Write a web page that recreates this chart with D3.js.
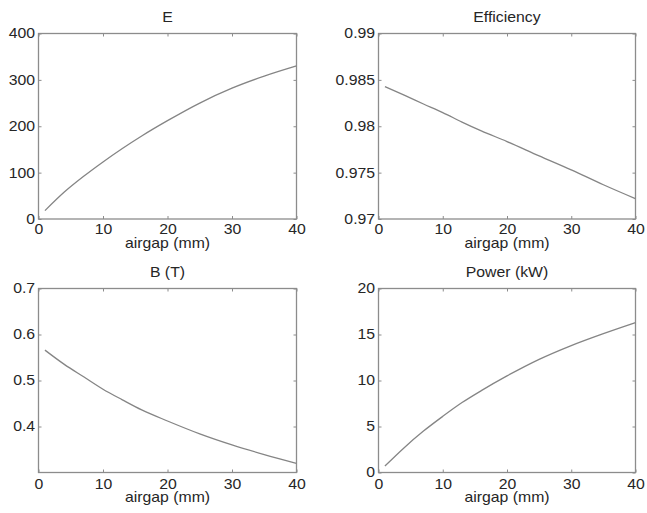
<!DOCTYPE html>
<html>
<head>
<meta charset="utf-8">
<script src="https://cdn.jsdelivr.net/npm/d3@7/dist/d3.min.js"></script>
<style>
  html, body { margin: 0; padding: 0; background: #fff; }
  svg { display: block; }
  text { font-family: "Liberation Sans", Arial, Helvetica, sans-serif; fill: #262626; }
</style>
</head>
<body>
<svg id="chart" width="647" height="513"></svg>
<script>
// Air gap length (mm) at which each quantity was evaluated
const airgap = [1, 4, 7, 10, 13, 16, 20, 25, 30, 35, 40];

// Back-EMF E
const emf = [18, 58, 92, 123, 152, 179, 212, 250, 282, 308, 330];
// Efficiency
const efficiency = [0.98427, 0.98335, 0.98240, 0.98147, 0.98045, 0.97950, 0.97835, 0.97681, 0.97530, 0.97369, 0.97219];
// Air-gap flux density B (T)
const fluxDensity = [0.566, 0.535, 0.508, 0.481, 0.458, 0.436, 0.412, 0.384, 0.360, 0.339, 0.320];
// Output power (kW)
const power = [0.7, 2.7, 4.5, 6.1, 7.6, 8.9, 10.5, 12.3, 13.8, 15.1, 16.3];

// Axis ticks
const xTicks = [0, 10, 20, 30, 40];
const emfTicks = [0, 100, 200, 300, 400];
const effTicks = [0.97, 0.975, 0.98, 0.985, 0.99];
const effTickLabels = ["0.97", "0.975", "0.98", "0.985", "0.99"];
const bTicks = [0.4, 0.5, 0.6, 0.7];
const bTickLabels = ["0.4", "0.5", "0.6", "0.7"];
const powerTicks = [0, 5, 10, 15, 20];

const xLabel = "airgap (mm)";

const panels = [
  { title: "E", values: emf, yDomain: [0, 400], yTicks: emfTicks, yLabels: emfTicks.map(String), col: 0, row: 0 },
  { title: "Efficiency", values: efficiency, yDomain: [0.97, 0.99], yTicks: effTicks, yLabels: effTickLabels, col: 1, row: 0 },
  { title: "B (T)", values: fluxDensity, yDomain: [0.3, 0.7], yTicks: bTicks, yLabels: bTickLabels, col: 0, row: 1 },
  { title: "Power (kW)", values: power, yDomain: [0, 20], yTicks: powerTicks, yLabels: powerTicks.map(String), col: 1, row: 1 }
];

// Subplot frame geometry
const colX = [[38.5, 296.5], [378.5, 635.5]];
const rowY = [[33.5, 219], [288.5, 472.5]];

const svg = d3.select("#chart");
const frameColor = "#8c8c8c";
const lineColor = "#858585";
const fontSize = 14;
const stretch = 1.13;   // wide text rendering
const tickLen = 3;

// Places a horizontally stretched label centred on (x, y)
function label(g, x, y, str) {
  g.append("text")
    .attr("transform", `translate(${x},${y}) scale(${stretch},1)`)
    .attr("text-anchor", "middle").attr("dominant-baseline", "central")
    .attr("font-size", fontSize)
    .text(str);
}

panels.forEach(p => {
  const [x0, x1] = colX[p.col];
  const [y0, y1] = rowY[p.row];
  const x = d3.scaleLinear().domain([0, 40]).range([x0, x1]);
  const y = d3.scaleLinear().domain(p.yDomain).range([y1, y0]);
  const g = svg.append("g");

  // Bottom axis labels and inward ticks
  const xAxis = d3.axisBottom(x).tickValues(xTicks).tickSize(-tickLen).tickPadding(p.row === 0 ? 5 : 6.5)
    .tickFormat(d3.format("d"));
  const gx = g.append("g").attr("transform", `translate(0,${y1})`).call(xAxis);
  // Top inward ticks
  const gxt = g.append("g").attr("transform", `translate(0,${y0})`)
    .call(d3.axisTop(x).tickValues(xTicks).tickSize(-tickLen).tickFormat(""));
  // Left axis labels and inward ticks
  const yAxis = d3.axisLeft(y).tickValues(p.yTicks).tickSize(-tickLen).tickPadding(3)
    .tickFormat((d, i) => p.yLabels[i]);
  const gy = g.append("g").attr("transform", `translate(${x0},0)`).call(yAxis);
  // Right inward ticks
  const gyr = g.append("g").attr("transform", `translate(${x1},0)`)
    .call(d3.axisRight(y).tickValues(p.yTicks).tickSize(-tickLen).tickFormat(""));

  [gx, gxt, gy, gyr].forEach(a => {
    a.select(".domain").remove();
    a.selectAll(".tick line").attr("stroke", frameColor).attr("stroke-width", 1);
    a.selectAll(".tick text").attr("font-size", fontSize).attr("fill", "#262626")
      .attr("font-family", '"Liberation Sans", Arial, sans-serif')
      .attr("transform", `scale(${stretch},1)`);
  });

  // Frame
  g.append("rect")
    .attr("x", x0).attr("y", y0)
    .attr("width", x1 - x0).attr("height", y1 - y0)
    .attr("fill", "none").attr("stroke", frameColor).attr("stroke-width", 1.3);

  // Data line
  const line = d3.line()
    .x((d, i) => x(airgap[i]))
    .y(d => y(d))
    .curve(d3.curveMonotoneX);
  g.append("path")
    .datum(p.values)
    .attr("d", line)
    .attr("fill", "none")
    .attr("stroke", lineColor)
    .attr("stroke-width", 1.3);

  // Title and x axis label
  label(g, (x0 + x1) / 2, y0 - 17, p.title);
  label(g, (x0 + x1) / 2, y1 + (p.row === 0 ? 23.5 : 24.5), xLabel);
});
</script>
</body>
</html>
